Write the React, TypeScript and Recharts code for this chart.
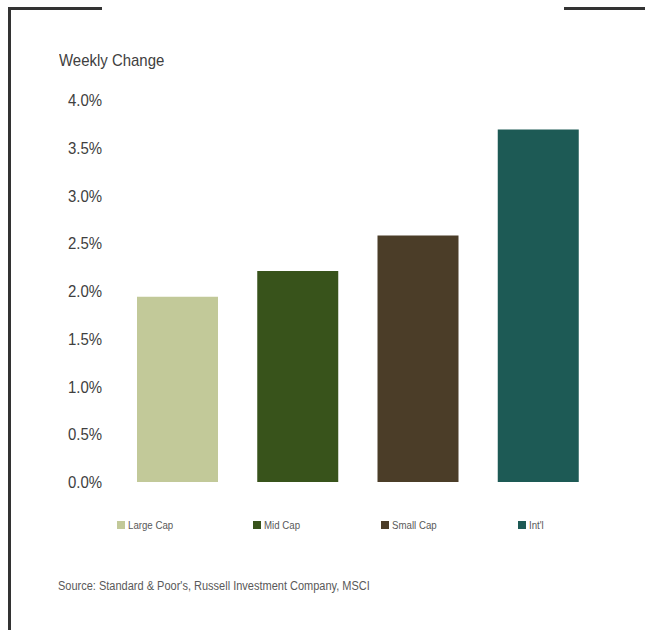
import React from 'react';
import { BarChart, Bar, XAxis, YAxis, Cell } from 'recharts';

const categories = ['Large Cap', 'Mid Cap', 'Small Cap', "Int'l"];
const weeklyChange = [1.94, 2.21, 2.58, 3.69];
const colors = ['#c2c999', '#38531b', '#4b3d28', '#1d5a55'];
const yTicks = [0, 0.5, 1, 1.5, 2, 2.5, 3, 3.5, 4];

const data = categories.map((name, i) => ({ name, value: weeklyChange[i] }));

const legendLeft = [117, 253, 381, 518];

const FONT = '"Liberation Sans", Arial, sans-serif';
const TEXT = '#404040';
const SX = 0.88;

const YTick = (props: any) => {
  const { x, y, payload } = props;
  return (
    <text
      x={0}
      y={0}
      dy="0.355em"
      transform={`translate(${x},${y}) scale(${SX},1)`}
      textAnchor="end"
      fill={TEXT}
      fontSize={17}
      fontFamily={FONT}
    >
      {payload.value.toFixed(1) + '%'}
    </text>
  );
};

const narrow: React.CSSProperties = {
  transform: `scaleX(${SX})`,
  transformOrigin: 'left center',
  whiteSpace: 'nowrap',
  display: 'inline-block',
};

export default function App() {
  return (
    <div style={{ position: 'absolute', left: 0, top: 0, width: 645, height: 630, background: '#fff', overflow: 'hidden' }}>
      <div style={{ position: 'absolute', left: 8, top: 7, width: 3, height: 623, background: '#333' }} />
      <div style={{ position: 'absolute', left: 8, top: 7, width: 94, height: 3, background: '#333' }} />
      <div style={{ position: 'absolute', left: 564, top: 7, width: 81, height: 3, background: '#333' }} />
      <div style={{ position: 'absolute', left: 59, top: 50, fontFamily: FONT, fontSize: 17, color: TEXT, lineHeight: '22px' }}>
        <span style={narrow}>Weekly Change</span>
      </div>
      <div style={{ position: 'absolute', left: 58, top: 578, fontFamily: FONT, fontSize: 12.5, color: '#595959', lineHeight: '16px' }}>
        <span style={narrow}>Source: Standard &amp; Poor's, Russell Investment Company, MSCI</span>
      </div>
      <div style={{ position: 'absolute', left: 0, top: 0 }}>
        <BarChart width={645} height={630} data={data} margin={{ top: 100, right: 47, bottom: 148, left: 57 }}>
          <XAxis dataKey="name" hide />
          <YAxis
            width={60}
            domain={[0, 4]}
            ticks={yTicks}
            interval={0}
            axisLine={false}
            tickLine={false}
            tickSize={0}
            tickMargin={15}
            tick={<YTick />}
          />
          <Bar dataKey="value" barSize={81} isAnimationActive={false}>
            {data.map((d, i) => (
              <Cell key={d.name} fill={colors[i]} />
            ))}
          </Bar>
        </BarChart>
      </div>
      {categories.map((c, i) => (
        <div
          key={c}
          style={{
            position: 'absolute',
            left: legendLeft[i],
            top: 517,
            height: 16,
            display: 'flex',
            alignItems: 'center',
            fontFamily: FONT,
            fontSize: 11,
            color: '#595959',
            whiteSpace: 'nowrap',
          }}
        >
          <span style={{ display: 'inline-block', width: 8, height: 8, background: colors[i], marginRight: 3 }} />
          <span style={narrow}>{c}</span>
        </div>
      ))}
    </div>
  );
}
